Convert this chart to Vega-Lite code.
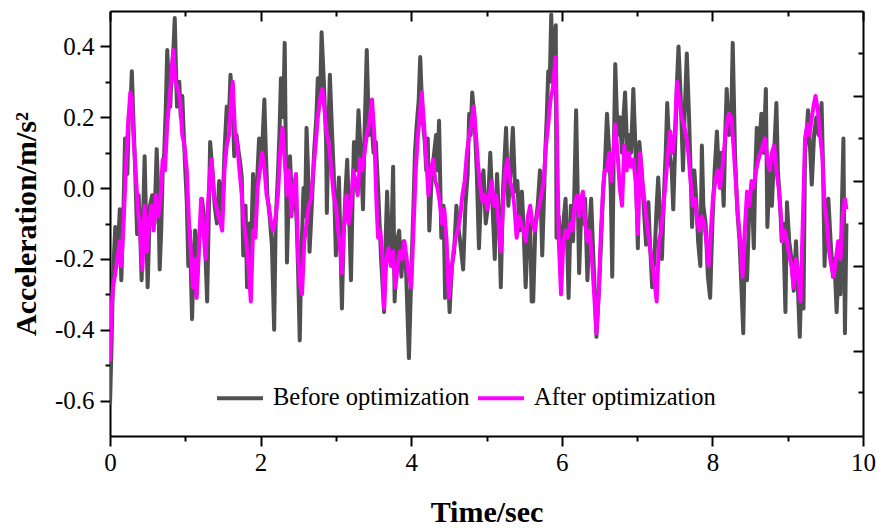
{
  "$schema": "https://vega.github.io/schema/vega-lite/v6.json",
  "width": 753,
  "height": 425,
  "autosize": "none",
  "padding": {"left": 110, "top": 11, "right": 13, "bottom": 92},
  "background": "white",
  "config": {
    "view": {"stroke": null},
    "font": "Liberation Serif",
    "axis": {"grid": false, "domainColor": "black", "domainWidth": 2, "tickColor": "black", "tickWidth": 2, "labelColor": "black", "titleColor": "black", "labelFont": "Liberation Serif", "titleFont": "Liberation Serif"}
  },
  "datasets": {
    "before": [
      {"t":0.00,"v":-0.61},{"t":0.02,"v":-0.45},{"t":0.04,"v":-0.25},{"t":0.07,"v":-0.11},{"t":0.10,"v":-0.20},{"t":0.13,"v":-0.06},{"t":0.15,"v":-0.26},{"t":0.18,"v":-0.05},{"t":0.20,"v":0.14},{"t":0.23,"v":0.04},{"t":0.25,"v":0.20},{"t":0.27,"v":0.22},{"t":0.29,"v":0.33},{"t":0.31,"v":0.20},{"t":0.33,"v":0.08},{"t":0.36,"v":-0.13},{"t":0.38,"v":-0.02},{"t":0.40,"v":-0.12},{"t":0.42,"v":-0.26},{"t":0.44,"v":-0.08},{"t":0.46,"v":0.09},{"t":0.48,"v":-0.10},{"t":0.50,"v":-0.28},{"t":0.53,"v":-0.05},{"t":0.56,"v":-0.02},{"t":0.59,"v":-0.10},{"t":0.62,"v":0.11},{"t":0.64,"v":0.00},{"t":0.66,"v":-0.23},{"t":0.68,"v":-0.12},{"t":0.70,"v":0.05},{"t":0.72,"v":0.10},{"t":0.74,"v":0.22},{"t":0.76,"v":0.39},{"t":0.78,"v":0.30},{"t":0.80,"v":0.23},{"t":0.82,"v":0.33},{"t":0.84,"v":0.38},{"t":0.86,"v":0.48},{"t":0.88,"v":0.30},{"t":0.89,"v":0.23},{"t":0.92,"v":0.30},{"t":0.94,"v":0.20},{"t":0.96,"v":0.26},{"t":0.98,"v":0.15},{"t":1.00,"v":0.05},{"t":1.02,"v":-0.04},{"t":1.04,"v":-0.22},{"t":1.06,"v":-0.12},{"t":1.09,"v":-0.37},{"t":1.11,"v":-0.20},{"t":1.13,"v":-0.12},{"t":1.15,"v":-0.30},{"t":1.18,"v":-0.15},{"t":1.20,"v":-0.10},{"t":1.22,"v":-0.03},{"t":1.25,"v":-0.08},{"t":1.27,"v":-0.20},{"t":1.29,"v":-0.32},{"t":1.31,"v":-0.10},{"t":1.33,"v":0.13},{"t":1.36,"v":0.05},{"t":1.39,"v":-0.05},{"t":1.42,"v":-0.10},{"t":1.45,"v":0.02},{"t":1.49,"v":-0.08},{"t":1.52,"v":0.10},{"t":1.55,"v":0.23},{"t":1.58,"v":0.20},{"t":1.60,"v":0.32},{"t":1.63,"v":0.22},{"t":1.65,"v":0.09},{"t":1.68,"v":0.15},{"t":1.71,"v":0.10},{"t":1.73,"v":0.07},{"t":1.75,"v":0.03},{"t":1.77,"v":-0.19},{"t":1.80,"v":-0.05},{"t":1.82,"v":-0.28},{"t":1.85,"v":-0.10},{"t":1.87,"v":-0.20},{"t":1.90,"v":0.04},{"t":1.93,"v":-0.12},{"t":1.96,"v":0.05},{"t":1.98,"v":0.14},{"t":2.01,"v":0.06},{"t":2.05,"v":0.25},{"t":2.07,"v":0.10},{"t":2.09,"v":-0.02},{"t":2.12,"v":-0.08},{"t":2.15,"v":-0.16},{"t":2.18,"v":-0.40},{"t":2.20,"v":-0.10},{"t":2.23,"v":0.04},{"t":2.25,"v":0.15},{"t":2.27,"v":0.31},{"t":2.30,"v":0.20},{"t":2.32,"v":0.41},{"t":2.35,"v":-0.21},{"t":2.37,"v":-0.05},{"t":2.39,"v":0.09},{"t":2.42,"v":-0.06},{"t":2.45,"v":0.02},{"t":2.48,"v":-0.10},{"t":2.50,"v":-0.25},{"t":2.52,"v":-0.43},{"t":2.54,"v":-0.20},{"t":2.57,"v":0.00},{"t":2.59,"v":-0.08},{"t":2.61,"v":0.17},{"t":2.63,"v":0.05},{"t":2.65,"v":-0.18},{"t":2.68,"v":-0.05},{"t":2.71,"v":0.10},{"t":2.74,"v":0.20},{"t":2.76,"v":0.31},{"t":2.79,"v":0.25},{"t":2.81,"v":0.44},{"t":2.84,"v":0.30},{"t":2.87,"v":0.13},{"t":2.88,"v":-0.07},{"t":2.90,"v":0.15},{"t":2.92,"v":0.32},{"t":2.95,"v":0.15},{"t":2.97,"v":0.05},{"t":3.00,"v":-0.19},{"t":3.02,"v":-0.05},{"t":3.04,"v":0.03},{"t":3.06,"v":-0.15},{"t":3.08,"v":-0.34},{"t":3.10,"v":-0.15},{"t":3.13,"v":0.00},{"t":3.15,"v":0.08},{"t":3.18,"v":-0.10},{"t":3.20,"v":-0.26},{"t":3.22,"v":-0.05},{"t":3.24,"v":0.13},{"t":3.27,"v":0.05},{"t":3.30,"v":0.22},{"t":3.33,"v":0.10},{"t":3.36,"v":-0.06},{"t":3.38,"v":0.15},{"t":3.41,"v":0.39},{"t":3.44,"v":0.15},{"t":3.47,"v":0.20},{"t":3.50,"v":0.10},{"t":3.53,"v":0.13},{"t":3.56,"v":0.00},{"t":3.60,"v":-0.20},{"t":3.64,"v":-0.35},{"t":3.66,"v":-0.15},{"t":3.68,"v":-0.01},{"t":3.71,"v":-0.20},{"t":3.74,"v":-0.12},{"t":3.76,"v":0.06},{"t":3.78,"v":-0.32},{"t":3.81,"v":-0.15},{"t":3.84,"v":-0.12},{"t":3.87,"v":-0.25},{"t":3.90,"v":-0.15},{"t":3.93,"v":-0.22},{"t":3.97,"v":-0.48},{"t":4.00,"v":-0.25},{"t":4.03,"v":-0.05},{"t":4.05,"v":0.10},{"t":4.07,"v":0.17},{"t":4.10,"v":0.25},{"t":4.12,"v":0.37},{"t":4.15,"v":0.20},{"t":4.18,"v":0.13},{"t":4.20,"v":0.05},{"t":4.22,"v":0.14},{"t":4.24,"v":-0.12},{"t":4.27,"v":0.02},{"t":4.30,"v":0.09},{"t":4.33,"v":0.15},{"t":4.35,"v":0.05},{"t":4.37,"v":0.19},{"t":4.40,"v":-0.14},{"t":4.43,"v":-0.05},{"t":4.45,"v":-0.31},{"t":4.48,"v":-0.20},{"t":4.51,"v":-0.35},{"t":4.54,"v":-0.22},{"t":4.57,"v":-0.18},{"t":4.60,"v":-0.05},{"t":4.62,"v":-0.10},{"t":4.65,"v":-0.15},{"t":4.69,"v":-0.23},{"t":4.72,"v":-0.05},{"t":4.75,"v":0.04},{"t":4.77,"v":0.21},{"t":4.79,"v":0.15},{"t":4.81,"v":0.27},{"t":4.84,"v":0.20},{"t":4.87,"v":0.05},{"t":4.90,"v":-0.17},{"t":4.93,"v":0.00},{"t":4.96,"v":0.05},{"t":4.99,"v":-0.10},{"t":5.02,"v":-0.05},{"t":5.05,"v":0.10},{"t":5.08,"v":-0.05},{"t":5.11,"v":-0.20},{"t":5.14,"v":0.04},{"t":5.17,"v":-0.10},{"t":5.19,"v":-0.28},{"t":5.22,"v":0.00},{"t":5.26,"v":0.17},{"t":5.29,"v":-0.05},{"t":5.32,"v":0.05},{"t":5.35,"v":0.17},{"t":5.38,"v":-0.01},{"t":5.41,"v":0.02},{"t":5.44,"v":-0.12},{"t":5.47,"v":-0.01},{"t":5.49,"v":-0.10},{"t":5.52,"v":-0.28},{"t":5.55,"v":-0.12},{"t":5.58,"v":-0.10},{"t":5.60,"v":-0.32},{"t":5.62,"v":-0.32},{"t":5.65,"v":-0.10},{"t":5.68,"v":-0.05},{"t":5.71,"v":0.05},{"t":5.74,"v":-0.19},{"t":5.76,"v":-0.05},{"t":5.78,"v":0.10},{"t":5.80,"v":0.20},{"t":5.82,"v":0.33},{"t":5.84,"v":0.30},{"t":5.86,"v":0.49},{"t":5.88,"v":0.30},{"t":5.90,"v":0.38},{"t":5.92,"v":0.46},{"t":5.93,"v":-0.14},{"t":5.96,"v":-0.08},{"t":5.99,"v":-0.25},{"t":6.02,"v":-0.10},{"t":6.05,"v":-0.03},{"t":6.07,"v":-0.15},{"t":6.09,"v":-0.31},{"t":6.12,"v":-0.05},{"t":6.15,"v":-0.15},{"t":6.17,"v":0.02},{"t":6.19,"v":0.22},{"t":6.21,"v":0.00},{"t":6.23,"v":-0.24},{"t":6.26,"v":-0.05},{"t":6.28,"v":-0.10},{"t":6.31,"v":-0.03},{"t":6.34,"v":-0.26},{"t":6.37,"v":-0.10},{"t":6.39,"v":-0.03},{"t":6.42,"v":-0.20},{"t":6.44,"v":-0.30},{"t":6.46,"v":-0.42},{"t":6.49,"v":-0.30},{"t":6.52,"v":-0.16},{"t":6.55,"v":0.00},{"t":6.57,"v":0.05},{"t":6.60,"v":0.21},{"t":6.63,"v":0.10},{"t":6.65,"v":0.00},{"t":6.67,"v":-0.25},{"t":6.69,"v":0.10},{"t":6.71,"v":0.35},{"t":6.74,"v":0.15},{"t":6.77,"v":0.20},{"t":6.80,"v":0.10},{"t":6.82,"v":0.20},{"t":6.84,"v":0.27},{"t":6.87,"v":0.10},{"t":6.90,"v":0.15},{"t":6.92,"v":0.10},{"t":6.95,"v":0.28},{"t":6.98,"v":0.10},{"t":7.01,"v":-0.17},{"t":7.03,"v":0.13},{"t":7.06,"v":0.05},{"t":7.09,"v":-0.06},{"t":7.12,"v":-0.16},{"t":7.15,"v":-0.04},{"t":7.17,"v":-0.15},{"t":7.20,"v":-0.28},{"t":7.23,"v":-0.20},{"t":7.26,"v":-0.05},{"t":7.28,"v":0.03},{"t":7.31,"v":-0.10},{"t":7.33,"v":-0.20},{"t":7.36,"v":0.00},{"t":7.38,"v":0.10},{"t":7.40,"v":0.24},{"t":7.43,"v":0.10},{"t":7.46,"v":0.05},{"t":7.48,"v":-0.06},{"t":7.51,"v":0.15},{"t":7.53,"v":0.30},{"t":7.55,"v":0.40},{"t":7.58,"v":0.25},{"t":7.61,"v":0.05},{"t":7.63,"v":0.20},{"t":7.66,"v":0.38},{"t":7.69,"v":0.20},{"t":7.71,"v":0.05},{"t":7.73,"v":-0.11},{"t":7.76,"v":0.05},{"t":7.79,"v":-0.05},{"t":7.81,"v":-0.15},{"t":7.84,"v":-0.22},{"t":7.86,"v":0.12},{"t":7.88,"v":-0.05},{"t":7.91,"v":-0.10},{"t":7.94,"v":-0.25},{"t":7.97,"v":-0.31},{"t":8.00,"v":-0.10},{"t":8.03,"v":0.05},{"t":8.06,"v":0.16},{"t":8.09,"v":0.02},{"t":8.12,"v":0.10},{"t":8.15,"v":-0.05},{"t":8.17,"v":0.15},{"t":8.19,"v":0.28},{"t":8.22,"v":0.15},{"t":8.25,"v":0.20},{"t":8.27,"v":0.41},{"t":8.30,"v":0.10},{"t":8.33,"v":-0.06},{"t":8.36,"v":-0.15},{"t":8.38,"v":-0.25},{"t":8.41,"v":-0.41},{"t":8.43,"v":-0.16},{"t":8.46,"v":-0.26},{"t":8.49,"v":-0.05},{"t":8.52,"v":0.01},{"t":8.55,"v":-0.17},{"t":8.57,"v":0.05},{"t":8.59,"v":0.17},{"t":8.62,"v":0.10},{"t":8.65,"v":0.21},{"t":8.68,"v":0.10},{"t":8.71,"v":0.28},{"t":8.73,"v":-0.11},{"t":8.76,"v":0.05},{"t":8.79,"v":-0.05},{"t":8.82,"v":0.10},{"t":8.85,"v":0.24},{"t":8.87,"v":0.05},{"t":8.90,"v":-0.05},{"t":8.92,"v":-0.15},{"t":8.94,"v":-0.10},{"t":8.97,"v":-0.35},{"t":8.99,"v":-0.04},{"t":9.02,"v":-0.15},{"t":9.05,"v":-0.20},{"t":9.08,"v":-0.29},{"t":9.11,"v":-0.15},{"t":9.13,"v":-0.25},{"t":9.16,"v":-0.42},{"t":9.19,"v":-0.20},{"t":9.21,"v":-0.34},{"t":9.23,"v":0.10},{"t":9.25,"v":0.15},{"t":9.27,"v":0.22},{"t":9.30,"v":0.10},{"t":9.32,"v":0.01},{"t":9.35,"v":0.15},{"t":9.38,"v":0.20},{"t":9.41,"v":0.15},{"t":9.45,"v":0.24},{"t":9.47,"v":0.05},{"t":9.49,"v":-0.22},{"t":9.51,"v":-0.05},{"t":9.54,"v":-0.03},{"t":9.57,"v":-0.15},{"t":9.60,"v":-0.25},{"t":9.62,"v":-0.20},{"t":9.65,"v":-0.35},{"t":9.68,"v":-0.20},{"t":9.70,"v":-0.30},{"t":9.72,"v":-0.05},{"t":9.74,"v":0.14},{"t":9.76,"v":-0.41},{"t":9.78,"v":-0.10}
    ],
    "after": [
      {"t":0.00,"v":-0.49},{"t":0.02,"v":-0.35},{"t":0.04,"v":-0.28},{"t":0.07,"v":-0.24},{"t":0.10,"v":-0.20},{"t":0.13,"v":-0.15},{"t":0.15,"v":-0.22},{"t":0.18,"v":-0.10},{"t":0.21,"v":0.05},{"t":0.24,"v":0.18},{"t":0.27,"v":0.27},{"t":0.29,"v":0.25},{"t":0.31,"v":0.15},{"t":0.34,"v":0.05},{"t":0.37,"v":-0.06},{"t":0.40,"v":-0.12},{"t":0.43,"v":-0.23},{"t":0.46,"v":-0.05},{"t":0.49,"v":-0.18},{"t":0.52,"v":-0.10},{"t":0.55,"v":-0.05},{"t":0.58,"v":-0.12},{"t":0.61,"v":-0.02},{"t":0.64,"v":-0.08},{"t":0.67,"v":-0.03},{"t":0.70,"v":0.08},{"t":0.73,"v":0.05},{"t":0.76,"v":0.18},{"t":0.79,"v":0.25},{"t":0.82,"v":0.33},{"t":0.84,"v":0.39},{"t":0.87,"v":0.30},{"t":0.90,"v":0.28},{"t":0.93,"v":0.25},{"t":0.96,"v":0.15},{"t":0.99,"v":0.12},{"t":1.02,"v":0.05},{"t":1.05,"v":-0.10},{"t":1.08,"v":-0.20},{"t":1.10,"v":-0.28},{"t":1.13,"v":-0.20},{"t":1.15,"v":-0.31},{"t":1.18,"v":-0.18},{"t":1.21,"v":-0.03},{"t":1.24,"v":-0.12},{"t":1.27,"v":-0.20},{"t":1.30,"v":-0.05},{"t":1.33,"v":0.05},{"t":1.35,"v":0.08},{"t":1.38,"v":-0.02},{"t":1.41,"v":-0.05},{"t":1.44,"v":-0.08},{"t":1.47,"v":-0.10},{"t":1.49,"v":-0.12},{"t":1.52,"v":0.05},{"t":1.55,"v":0.12},{"t":1.58,"v":0.15},{"t":1.61,"v":0.25},{"t":1.63,"v":0.30},{"t":1.66,"v":0.16},{"t":1.69,"v":0.12},{"t":1.72,"v":0.05},{"t":1.75,"v":-0.02},{"t":1.78,"v":-0.10},{"t":1.81,"v":-0.15},{"t":1.84,"v":-0.22},{"t":1.87,"v":-0.32},{"t":1.90,"v":-0.12},{"t":1.93,"v":-0.14},{"t":1.96,"v":0.00},{"t":1.99,"v":0.05},{"t":2.02,"v":0.10},{"t":2.05,"v":0.06},{"t":2.08,"v":-0.02},{"t":2.11,"v":-0.05},{"t":2.14,"v":-0.10},{"t":2.17,"v":-0.12},{"t":2.20,"v":-0.08},{"t":2.23,"v":-0.02},{"t":2.26,"v":0.10},{"t":2.29,"v":0.17},{"t":2.32,"v":0.08},{"t":2.35,"v":-0.02},{"t":2.38,"v":0.05},{"t":2.41,"v":-0.08},{"t":2.44,"v":0.00},{"t":2.47,"v":0.04},{"t":2.50,"v":-0.20},{"t":2.53,"v":-0.28},{"t":2.55,"v":-0.30},{"t":2.58,"v":-0.15},{"t":2.61,"v":-0.10},{"t":2.64,"v":-0.05},{"t":2.67,"v":-0.03},{"t":2.70,"v":0.05},{"t":2.73,"v":0.12},{"t":2.76,"v":0.20},{"t":2.79,"v":0.25},{"t":2.82,"v":0.28},{"t":2.85,"v":0.22},{"t":2.88,"v":0.15},{"t":2.91,"v":0.12},{"t":2.94,"v":0.05},{"t":2.97,"v":-0.02},{"t":3.00,"v":-0.05},{"t":3.03,"v":-0.12},{"t":3.06,"v":-0.18},{"t":3.08,"v":-0.24},{"t":3.11,"v":-0.10},{"t":3.14,"v":-0.02},{"t":3.17,"v":-0.10},{"t":3.20,"v":-0.05},{"t":3.23,"v":0.05},{"t":3.26,"v":0.02},{"t":3.29,"v":-0.02},{"t":3.32,"v":0.08},{"t":3.35,"v":0.05},{"t":3.38,"v":0.10},{"t":3.41,"v":0.15},{"t":3.44,"v":0.18},{"t":3.48,"v":0.25},{"t":3.51,"v":0.15},{"t":3.54,"v":-0.05},{"t":3.56,"v":-0.14},{"t":3.59,"v":-0.12},{"t":3.62,"v":-0.20},{"t":3.64,"v":-0.34},{"t":3.67,"v":-0.20},{"t":3.70,"v":-0.17},{"t":3.73,"v":-0.22},{"t":3.76,"v":-0.18},{"t":3.79,"v":-0.28},{"t":3.82,"v":-0.22},{"t":3.85,"v":-0.18},{"t":3.88,"v":-0.20},{"t":3.91,"v":-0.15},{"t":3.94,"v":-0.20},{"t":3.97,"v":-0.25},{"t":4.00,"v":-0.28},{"t":4.03,"v":-0.12},{"t":4.06,"v":0.05},{"t":4.09,"v":0.15},{"t":4.12,"v":0.22},{"t":4.14,"v":0.27},{"t":4.17,"v":0.18},{"t":4.20,"v":0.08},{"t":4.23,"v":-0.02},{"t":4.26,"v":0.05},{"t":4.29,"v":0.08},{"t":4.32,"v":0.02},{"t":4.35,"v":0.00},{"t":4.38,"v":-0.04},{"t":4.41,"v":-0.10},{"t":4.44,"v":-0.06},{"t":4.47,"v":-0.15},{"t":4.50,"v":-0.31},{"t":4.53,"v":-0.25},{"t":4.56,"v":-0.18},{"t":4.59,"v":-0.14},{"t":4.62,"v":-0.12},{"t":4.65,"v":-0.08},{"t":4.68,"v":-0.02},{"t":4.71,"v":0.02},{"t":4.74,"v":0.10},{"t":4.77,"v":0.15},{"t":4.80,"v":0.18},{"t":4.83,"v":0.23},{"t":4.86,"v":0.15},{"t":4.89,"v":0.06},{"t":4.92,"v":0.00},{"t":4.95,"v":-0.04},{"t":4.98,"v":-0.02},{"t":5.01,"v":-0.06},{"t":5.04,"v":-0.02},{"t":5.07,"v":0.02},{"t":5.10,"v":-0.05},{"t":5.13,"v":-0.02},{"t":5.16,"v":-0.10},{"t":5.19,"v":-0.18},{"t":5.22,"v":-0.05},{"t":5.25,"v":0.05},{"t":5.28,"v":0.08},{"t":5.31,"v":0.02},{"t":5.34,"v":0.00},{"t":5.37,"v":-0.05},{"t":5.40,"v":-0.14},{"t":5.43,"v":-0.08},{"t":5.46,"v":-0.10},{"t":5.49,"v":-0.12},{"t":5.52,"v":-0.15},{"t":5.55,"v":-0.08},{"t":5.58,"v":-0.05},{"t":5.61,"v":-0.10},{"t":5.64,"v":-0.12},{"t":5.67,"v":-0.08},{"t":5.70,"v":-0.05},{"t":5.73,"v":-0.02},{"t":5.76,"v":0.02},{"t":5.79,"v":0.12},{"t":5.82,"v":0.18},{"t":5.85,"v":0.25},{"t":5.88,"v":0.28},{"t":5.90,"v":0.33},{"t":5.92,"v":0.37},{"t":5.94,"v":0.10},{"t":5.96,"v":-0.15},{"t":5.99,"v":-0.30},{"t":6.02,"v":-0.15},{"t":6.05,"v":-0.12},{"t":6.08,"v":-0.14},{"t":6.11,"v":-0.10},{"t":6.14,"v":-0.12},{"t":6.17,"v":-0.05},{"t":6.20,"v":-0.02},{"t":6.23,"v":-0.08},{"t":6.26,"v":-0.03},{"t":6.28,"v":-0.01},{"t":6.31,"v":-0.10},{"t":6.34,"v":-0.15},{"t":6.37,"v":-0.12},{"t":6.40,"v":-0.20},{"t":6.43,"v":-0.30},{"t":6.46,"v":-0.41},{"t":6.49,"v":-0.30},{"t":6.52,"v":-0.12},{"t":6.55,"v":0.00},{"t":6.57,"v":0.05},{"t":6.60,"v":0.05},{"t":6.63,"v":0.10},{"t":6.66,"v":0.02},{"t":6.69,"v":0.12},{"t":6.71,"v":0.18},{"t":6.74,"v":0.10},{"t":6.77,"v":0.00},{"t":6.80,"v":-0.05},{"t":6.83,"v":0.12},{"t":6.86,"v":0.05},{"t":6.89,"v":0.10},{"t":6.92,"v":0.06},{"t":6.95,"v":0.08},{"t":6.98,"v":0.02},{"t":7.01,"v":-0.13},{"t":7.04,"v":0.10},{"t":7.07,"v":0.02},{"t":7.10,"v":-0.04},{"t":7.13,"v":-0.10},{"t":7.16,"v":-0.15},{"t":7.19,"v":-0.20},{"t":7.22,"v":-0.24},{"t":7.26,"v":-0.32},{"t":7.29,"v":-0.15},{"t":7.32,"v":-0.12},{"t":7.35,"v":-0.05},{"t":7.38,"v":0.02},{"t":7.41,"v":0.10},{"t":7.44,"v":0.16},{"t":7.47,"v":0.10},{"t":7.50,"v":0.15},{"t":7.53,"v":0.30},{"t":7.56,"v":0.25},{"t":7.59,"v":0.20},{"t":7.62,"v":0.18},{"t":7.65,"v":0.15},{"t":7.68,"v":0.10},{"t":7.71,"v":0.02},{"t":7.74,"v":-0.05},{"t":7.77,"v":-0.03},{"t":7.80,"v":-0.10},{"t":7.83,"v":-0.12},{"t":7.86,"v":-0.08},{"t":7.89,"v":-0.10},{"t":7.92,"v":-0.15},{"t":7.95,"v":-0.22},{"t":7.98,"v":-0.12},{"t":8.01,"v":-0.02},{"t":8.04,"v":0.02},{"t":8.07,"v":0.05},{"t":8.10,"v":0.00},{"t":8.13,"v":0.05},{"t":8.16,"v":0.12},{"t":8.19,"v":0.18},{"t":8.22,"v":0.21},{"t":8.25,"v":0.20},{"t":8.28,"v":0.12},{"t":8.31,"v":0.02},{"t":8.34,"v":-0.08},{"t":8.37,"v":-0.15},{"t":8.40,"v":-0.25},{"t":8.43,"v":-0.12},{"t":8.46,"v":-0.01},{"t":8.49,"v":-0.05},{"t":8.52,"v":0.02},{"t":8.55,"v":0.00},{"t":8.58,"v":0.05},{"t":8.61,"v":0.08},{"t":8.64,"v":0.10},{"t":8.67,"v":0.12},{"t":8.70,"v":0.14},{"t":8.73,"v":0.08},{"t":8.76,"v":0.05},{"t":8.79,"v":0.10},{"t":8.82,"v":0.12},{"t":8.85,"v":0.05},{"t":8.88,"v":0.00},{"t":8.91,"v":-0.08},{"t":8.93,"v":-0.15},{"t":8.96,"v":-0.12},{"t":8.99,"v":-0.15},{"t":9.02,"v":-0.19},{"t":9.05,"v":-0.22},{"t":9.08,"v":-0.28},{"t":9.11,"v":-0.20},{"t":9.14,"v":-0.25},{"t":9.17,"v":-0.32},{"t":9.20,"v":-0.10},{"t":9.23,"v":0.14},{"t":9.26,"v":0.18},{"t":9.29,"v":0.15},{"t":9.32,"v":0.20},{"t":9.35,"v":0.24},{"t":9.37,"v":0.26},{"t":9.40,"v":0.22},{"t":9.43,"v":0.15},{"t":9.46,"v":0.09},{"t":9.49,"v":-0.05},{"t":9.52,"v":-0.10},{"t":9.55,"v":-0.18},{"t":9.58,"v":-0.22},{"t":9.61,"v":-0.25},{"t":9.64,"v":-0.20},{"t":9.67,"v":-0.15},{"t":9.70,"v":-0.20},{"t":9.73,"v":-0.08},{"t":9.76,"v":-0.03},{"t":9.78,"v":-0.06}
    ]
  },
  "layer": [
    {
      "data": {"name": "before"},
      "mark": {"type": "line", "strokeWidth": 4, "strokeJoin": "round", "clip": true},
      "encoding": {
        "x": {"field": "t", "type": "quantitative", "scale": {"domain": [0, 10], "nice": false, "zero": false},
          "axis": {"orient": "bottom", "values": [0, 2, 4, 6, 8, 10], "format": "d", "tickSize": 10, "labelFontSize": 25, "labelPadding": 4, "labelFlush": false, "title": "Time/sec", "titleFontSize": 30, "titleFontWeight": "bold", "titlePadding": 22}},
        "y": {"field": "v", "type": "quantitative", "scale": {"domain": [-0.7, 0.5], "nice": false, "zero": false},
          "axis": {"orient": "left", "values": [-0.6, -0.4, -0.2, 0, 0.2, 0.4], "labelExpr": "replace(format(datum.value, '.1f'), '\u2212', '-')", "tickSize": 10, "labelFontSize": 25, "labelPadding": 6, "labelFlush": false, "title": "Acceleration/m/s\u00b2", "titleFontSize": 30, "titleFontWeight": "bold", "titlePadding": 13}},
        "color": {"datum": "Before optimization", "type": "nominal",
          "scale": {"domain": ["Before optimization", "After optimization"], "range": ["#505050", "#ff00ff"]},
          "legend": {"orient": "none", "legendX": 105, "legendY": 362, "direction": "horizontal", "title": null, "symbolType": "stroke", "symbolSize": 2116, "symbolStrokeWidth": 4, "labelFont": "Liberation Serif", "labelFontSize": 24.5, "labelColor": "black", "labelLimit": 0, "labelOffset": 8, "columnPadding": 0, "padding": 0}}
      }
    },
    {
      "data": {"name": "after"},
      "mark": {"type": "line", "strokeWidth": 4, "strokeJoin": "round", "clip": true},
      "encoding": {
        "x": {"field": "t", "type": "quantitative",
          "axis": {"orient": "bottom", "values": [1, 3, 5, 7, 9], "tickSize": 5, "labels": false, "domain": false, "title": null}},
        "y": {"field": "v", "type": "quantitative",
          "axis": {"orient": "left", "values": [-0.5, -0.3, -0.1, 0.1, 0.3], "tickSize": 5, "labels": false, "domain": false, "title": null}},
        "color": {"datum": "After optimization", "type": "nominal"}
      }
    },
    {
      "data": {"name": "after"},
      "transform": [{"filter": "datum.t == 0"}],
      "mark": {"type": "point", "opacity": 0},
      "encoding": {
        "x": {"field": "t", "type": "quantitative",
          "axis": {"orient": "top", "values": [0, 2, 4, 6, 8, 10], "tickSize": -10, "labels": false, "title": null}},
        "y": {"field": "v", "type": "quantitative",
          "axis": {"orient": "right", "values": [0.259, 0.0197, -0.2197, -0.459], "tickSize": -10, "labels": false, "title": null}}
      }
    },
    {
      "data": {"name": "after"},
      "transform": [{"filter": "datum.t == 0"}],
      "mark": {"type": "point", "opacity": 0},
      "encoding": {
        "x": {"field": "t", "type": "quantitative",
          "axis": {"orient": "top", "values": [1, 3, 5, 7, 9], "tickSize": -5, "labels": false, "domain": false, "title": null}},
        "y": {"field": "v", "type": "quantitative",
          "axis": {"orient": "right", "values": [0.380, 0.141, -0.0986, -0.338, -0.577], "tickSize": -5, "labels": false, "domain": false, "title": null}}
      }
    }
  ],
  "resolve": {"axis": {"x": "independent", "y": "independent"}}
}
